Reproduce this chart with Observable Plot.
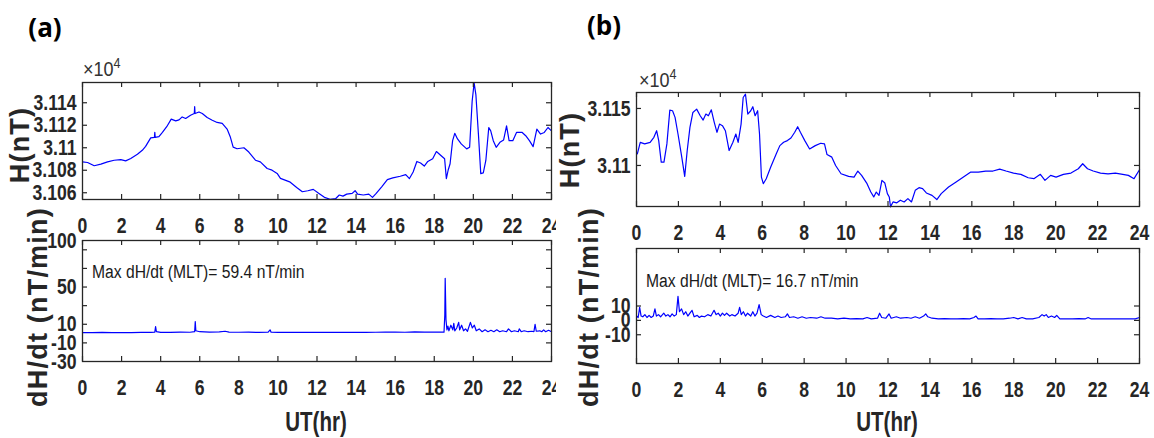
<!DOCTYPE html>
<html>
<head>
<meta charset="utf-8">
<script src="https://cdn.jsdelivr.net/npm/d3@7"></script>
<script src="https://cdn.jsdelivr.net/npm/@observablehq/plot@0.6"></script>
<style>
  body { margin: 0; background: #fff; }
  #root { position: relative; width: 1154px; height: 438px; background: #fff; overflow: hidden; }
  #root svg { position: absolute; top: 0; }
  .lbl { position: absolute; white-space: nowrap; line-height: 1; color: #262626; }
</style>
</head>
<body>
<div id="root"></div>
<script>
// ---------------- data ----------------
const xTicks = [0, 2, 4, 6, 8, 10, 12, 14, 16, 18, 20, 22, 24];

// Panel (a): H (nT) vs UT (hr)
const aHours = [0,0.26,0.6,0.94,1.28,1.62,1.96,2.21,2.47,2.81,3.06,3.23,3.49,3.68,3.7,3.72,3.91,4.09,4.31,4.54,4.77,4.94,5.1,5.28,5.53,5.72,5.74,5.76,5.96,6.13,6.38,6.64,6.89,7.15,7.4,7.57,7.71,7.91,8.26,8.51,8.85,9.1,9.45,9.7,9.96,10.13,10.6,10.96,11.25,11.53,11.81,12.1,12.38,12.67,12.95,13.14,13.33,13.52,13.8,13.95,14.08,14.37,14.65,14.84,15.03,15.31,15.6,15.88,16.26,16.54,16.73,16.92,17.11,17.3,17.49,17.67,17.92,18.11,18.34,18.53,18.62,18.71,18.81,18.94,19.05,19.19,19.38,19.66,19.81,19.94,20.04,20.13,20.26,20.38,20.51,20.64,20.79,20.89,21.02,21.17,21.36,21.55,21.7,21.83,22.02,22.21,22.5,22.68,22.87,23.06,23.25,23.44,23.63,23.82,24];
const aH = [31087.4,31086.9,31084,31085.4,31087.4,31088.9,31089.5,31088.3,31090.4,31094.2,31097.7,31101.2,31108.8,31109.3,31113.7,31109.3,31109.9,31113.7,31118.7,31125.4,31123.9,31124.8,31127.4,31126,31128.9,31130.4,31136.5,31130.4,31131.8,31130.4,31126.9,31124.5,31122.5,31121.6,31116.6,31109.3,31100.6,31099.1,31100,31096.2,31088.9,31087.4,31081.6,31080.1,31077.2,31072.8,31069.7,31064.7,31060.9,31061.8,31063,31059.4,31055.9,31054.2,31054.7,31058,31057,31058.8,31059.4,31061.8,31058.8,31058,31058.8,31055.9,31059.4,31065.3,31071.7,31073.2,31074.7,31076.1,31072.6,31078.5,31087.8,31086.4,31083.7,31087.8,31090.2,31096.6,31093.1,31090.2,31072.6,31080,31085.8,31106.3,31112.8,31107.8,31103.4,31099,31100.4,31141.5,31157.6,31147.3,31112.2,31077,31077.6,31088.7,31118,31115,31106.3,31100.4,31104.8,31106.9,31119.5,31106.3,31106.3,31113.6,31113.6,31110.7,31106.3,31101,31116.6,31112.2,31113.6,31118,31115];

// Panel (a): dH/dt (nT/min)
const aDHours = [0,0.5,1,1.5,2,2.5,3,3.5,3.7,3.74,3.78,4,4.5,5,5.5,5.74,5.77,5.8,6,6.5,7,7.3,7.5,8,8.5,9,9.5,9.6,9.65,10,10.5,11,11.5,12,12.5,13,13.5,14,14.5,15,15.5,16,16.5,17,17.5,18,18.5,18.54,18.56,18.6,18.65,18.7,18.75,18.85,18.95,19.0,19.05,19.15,19.25,19.3,19.4,19.5,19.6,19.7,19.85,19.95,20.05,20.15,20.3,20.45,20.6,20.75,20.9,21.05,21.2,21.35,21.5,21.7,21.8,21.95,22.1,22.3,22.35,22.45,22.6,22.8,23.0,23.1,23.16,23.22,23.4,23.5,23.6,23.7,23.85,24];
const aDH = [1,1,1.2,1,1.1,1,1.2,1.3,1.5,7.5,2,1.3,1.2,1.5,1.4,2,13,3,2,1.5,1.8,2.5,1.6,1.4,1.5,1.3,1.5,4,1.5,1.3,1.2,1.4,1.3,1.2,1.2,1.3,1.2,1.3,1.2,1.4,1.6,1.5,1.4,1.8,1.6,1.5,1.5,20,59.4,15,4,8,3,9,4,11,3,6,12,4,9,3,5,2.5,12,6,9,3,5,2,4,2,3.5,2,4,2,3,2,5,2,3,2,5,2,3,2,2.5,2,10,2.5,3,2,4,2,3.5,2];

// Panel (b): H (nT) vs UT (hr)
const bHours = [0.04,0.18,0.39,0.65,0.83,0.96,1.06,1.18,1.31,1.45,1.59,1.72,1.84,1.98,2.16,2.3,2.42,2.55,2.69,2.87,3.04,3.18,3.31,3.43,3.57,3.71,3.84,3.96,4.1,4.24,4.42,4.6,4.74,4.85,4.99,5.09,5.2,5.31,5.45,5.55,5.66,5.78,5.87,5.96,6.05,6.19,6.4,6.67,6.84,7.02,7.2,7.37,7.55,7.69,7.82,8.03,8.26,8.53,8.79,8.97,9.09,9.32,9.5,9.76,10.12,10.38,10.56,10.74,11.0,11.18,11.32,11.44,11.57,11.71,11.85,11.97,12.06,12.12,12.24,12.42,12.59,12.77,12.95,13.12,13.3,13.48,13.65,13.83,14.1,14.33,14.54,14.89,15.25,15.6,15.95,16.31,16.66,17.01,17.33,17.63,17.99,18.34,18.69,18.96,19.27,19.49,19.76,20.02,20.37,20.73,21.08,21.29,21.52,21.79,22.14,22.5,22.85,23.2,23.47,23.74,24.0];
const bH = [31110.2,31120.3,31118.9,31120.3,31124.7,31130.5,31121.8,31102.9,31102.9,31118.9,31148.5,31148,31142.2,31127.6,31107.3,31090.4,31113.1,31133.4,31146.5,31149.4,31143.6,31139.8,31145.1,31143.6,31148.8,31137.8,31129.1,31136.3,31134.9,31130.5,31113.1,31120.3,31127.6,31120.3,31136.3,31159.6,31162.5,31145.1,31148,31151.5,31143.6,31148,31127.6,31089.8,31084,31088.4,31098.5,31110.2,31117.4,31120.3,31121.8,31124.1,31129.1,31134,31129.1,31121.8,31114.5,31117.4,31119.5,31118.9,31109.6,31107.3,31100,31092.7,31090.4,31089.8,31095.1,31091.3,31084,31076.7,31072.4,31076.7,31073.8,31086.9,31084.6,31075.3,31072.4,31063.7,31068,31067.2,31069.5,31068,31070.9,31068,31078.2,31080.5,31079.7,31075.9,31073.8,31070.1,31075.3,31081.1,31085.5,31089.8,31094.2,31094.2,31095.1,31095.1,31096.8,31095.1,31093.3,31092.2,31089.2,31088.4,31092.2,31086.9,31091.3,31089.8,31092.2,31093.3,31097.1,31101.5,31097.1,31095.1,31093.3,31092.7,31093.3,31092.2,31091.3,31088.4,31096.2];

// Panel (b): dH/dt (nT/min)
const bDHours = [0,0.08,0.15,0.22,0.3,0.4,0.5,0.6,0.7,0.8,0.88,0.95,1.05,1.15,1.3,1.4,1.5,1.6,1.7,1.8,1.9,1.98,2.05,2.15,2.25,2.35,2.45,2.55,2.65,2.75,2.9,3.0,3.1,3.25,3.4,3.55,3.7,3.8,3.9,4.0,4.1,4.2,4.3,4.45,4.55,4.7,4.85,4.92,5.0,5.1,5.2,5.3,5.45,5.55,5.65,5.75,5.85,5.95,6.05,6.2,6.4,6.6,6.75,6.9,7.1,7.2,7.3,7.5,7.7,7.9,8.1,8.3,8.6,8.8,9.0,9.3,9.6,9.9,10.2,10.5,10.8,11.0,11.2,11.5,11.6,11.7,11.9,12.05,12.15,12.4,12.6,12.9,13.1,13.3,13.5,13.7,13.8,13.9,14.1,14.4,14.7,15.0,15.3,15.6,15.9,16.1,16.2,16.3,16.6,16.9,17.2,17.5,17.8,18.0,18.2,18.4,18.6,18.9,19.2,19.35,19.45,19.55,19.65,19.8,19.95,20.05,20.2,20.5,20.8,21.1,21.4,21.55,21.7,22.0,22.3,22.6,22.9,23.2,23.5,23.8,24.0];
const bDH = [3,2,9,3,2.5,4,2,3.5,2,3,8,3,4,2.5,5,3,4,2.5,4.5,3,4,16.7,6,8,4,6,3,5,7,2.5,3.5,2,3,2.5,4,3,7,4,5,3,5,3.5,5,3,4,3,5,9,4,6,3,5,3,6,3,5,11,4,3,2,3.5,2,3,2,2.5,4.5,2,2.5,1.5,2.5,1.5,2,1.5,2.5,1.5,1.5,1,1.5,1,1.2,1,2,1,1.5,5,2,1.5,4.5,1.5,2.5,1.5,2,1.5,2.5,1.5,3,4.5,2.5,1.5,1,1.2,1,1,1.2,1,2,3,1,1,1.2,1,1,1.5,2,1,2,1,1,2,4,3,4,2,3,2,3.5,1,1,1,1.2,1,2,1,1,1,1,1,1,1,1,2];

// tick values
const aHTicks = [31060, 31080, 31100, 31120, 31140];
const aDTickMarks = [-10, 10, 30, 50, 70, 90];
const aDTickLabels = [-30, -10, 10, 50, 100];
const bHTicks = [31100, 31150];
const bDTicks = [-10, 0, 10];

// ---------------- drawing ----------------
const sans = '"Liberation Sans", Arial, sans-serif';
const ink = "#262626";
const H = 438;
const tickSquash = 0.8;

// narrow the tick labels horizontally (keeps Plot's own x/y/dy attributes)
function squashTexts(svg, s) {
  svg.querySelectorAll("text").forEach(t => {
    const tr = t.getAttribute("transform") || "";
    t.setAttribute("transform", `${tr} scale(${s},1)`);
  });
}

function panel(o) {
  const innerW = o.width - o.mL - o.mR;
  const innerH = H - o.mT - o.mB;
  const data = o.t.map((t, i) => ({t, v: o.v[i]}));
  const svg = Plot.plot({
    width: o.width, height: H,
    marginLeft: o.mL, marginRight: o.mR, marginTop: o.mT, marginBottom: o.mB,
    x: {domain: [0, 24], axis: null},
    y: {domain: o.yDomain, axis: null},
    style: {background: "transparent", overflow: "hidden", left: o.left + "px", maxWidth: "none"},
    marks: [
      Plot.line(data, {x: "t", y: "v", stroke: "#0000ff", strokeWidth: 1.2}),
      Plot.frame({stroke: ink, strokeWidth: 1.3}),
      Plot.tickX(xTicks, {x: d => d, insetTop: innerH - 5, stroke: ink, strokeWidth: 1.2}),
      Plot.tickX(xTicks, {x: d => d, insetBottom: innerH - 5, stroke: ink, strokeWidth: 1.2}),
      Plot.tickY(o.yMarks, {y: d => d, insetRight: innerW - 5, stroke: ink, strokeWidth: 1.2}),
      Plot.tickY(o.yMarks, {y: d => d, insetLeft: innerW - 5, stroke: ink, strokeWidth: 1.2}),
      Plot.axisX({ticks: xTicks, tickSize: 0, tickPadding: 18, label: null, tickFormat: d => String(d),
        fontSize: 22, fontWeight: "bold", fontFamily: sans, fill: ink}),
      Plot.axisY({ticks: o.yLabels, tickSize: 0, tickPadding: 6, label: null, tickFormat: o.fmt,
        fontSize: 22, fontWeight: "bold", fontFamily: sans, fill: ink})
    ]
  });
  squashTexts(svg, tickSquash);
  return svg;
}

const fmtH = d => String(+(d / 1e4).toFixed(4));
const fmtD = d => String(d);

const root = document.getElementById("root");
const panels = [
  {t: aHours, v: aH, yDomain: [31054, 31158], yMarks: aHTicks, yLabels: aHTicks, fmt: fmtH,
   left: 0, width: 556, mL: 82, mR: 5, mT: 82, mB: H - 199},
  {t: aDHours, v: aDH, yDomain: [-30, 100], yMarks: aDTickMarks, yLabels: aDTickLabels, fmt: fmtD,
   left: 0, width: 556, mL: 82, mR: 5, mT: 240, mB: H - 361},
  {t: bHours, v: bH, yDomain: [31064, 31164], yMarks: bHTicks, yLabels: bHTicks, fmt: fmtH,
   left: 556, width: 598, mL: 80, mR: 15, mT: 92, mB: H - 206},
  {t: bDHours, v: bDH, yDomain: [-30, 50], yMarks: bDTicks, yLabels: bDTicks, fmt: fmtD,
   left: 556, width: 598, mL: 80, mR: 15, mT: 248, mB: H - 363}
];
for (const p of panels) root.appendChild(panel(p));

function label(text, x, y, css, opts = {}) {
  const d = document.createElement("div");
  d.className = "lbl";
  d.innerHTML = text;
  Object.assign(d.style, css);
  d.style.left = x + "px";
  d.style.top = y + "px";
  const sx = opts.sx || 1;
  if (opts.left) {
    d.style.transformOrigin = "0 50%";
    d.style.transform = `translate(0,-50%) scale(${sx},1)`;
  } else {
    d.style.transform = `translate(-50%,-50%)` + (opts.rotate ? " rotate(-90deg)" : "") + ` scale(${sx},1)`;
  }
  root.appendChild(d);
}

const yLabCss = {fontFamily: sans, fontWeight: "bold", fontSize: "27px", letterSpacing: "1.2px"};
const xLabCss = {fontFamily: sans, fontWeight: "bold", fontSize: "27px"};
const maxCss = {fontFamily: sans, fontSize: "18px", color: "#1a1a1a"};
const panCss = {fontFamily: '"Open Sans", sans-serif', fontWeight: "bold", fontSize: "26px", color: "#000"};
const expCss = {fontFamily: sans, fontSize: "20px", color: "#333"};
const sup = "<sup style='font-size:14px;vertical-align:8px'>4</sup>";

label("(a)", 45, 27, panCss);
label("(b)", 604, 25, panCss);
label("×10" + sup, 83, 67, expCss, {left: true, sx: 0.9});
label("×10" + sup, 639, 78, expCss, {left: true, sx: 0.9});
label("H(nT)", 20, 145, yLabCss, {rotate: true});
label("dH/dt (nT/min)", 38, 307, yLabCss, {rotate: true});
label("H(nT)", 570, 150, yLabCss, {rotate: true});
label("dH/dt (nT/min)", 589, 307, yLabCss, {rotate: true});
label("UT(hr)", 316, 422, xLabCss, {sx: 0.76});
label("UT(hr)", 887, 422, xLabCss, {sx: 0.76});
label("Max dH/dt (MLT)= 59.4 nT/min", 92, 272, maxCss, {left: true, sx: 0.87});
label("Max dH/dt (MLT)= 16.7 nT/min", 646, 281, maxCss, {left: true, sx: 0.87});
</script>
</body>
</html>
